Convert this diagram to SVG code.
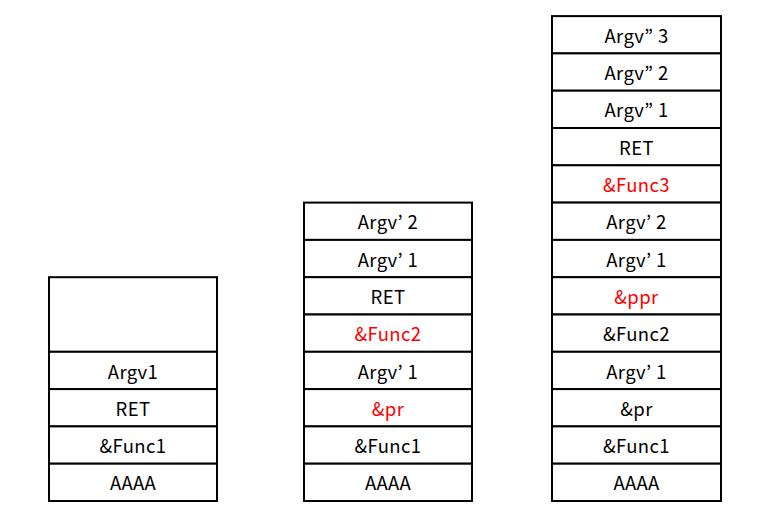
<svg xmlns="http://www.w3.org/2000/svg" width="773" height="517" viewBox="0 0 773 517">
<style>
rect{fill:#fff;stroke:#000;stroke-width:2}
text{font-family:"Malgun Gothic","Noto Sans CJK KR","Noto Sans",sans-serif;font-size:18.5px;letter-spacing:0.4px;text-anchor:middle;dominant-baseline:central;fill:#000}
.r{fill:#f00}
</style>
<rect width="773" height="517" style="stroke:none"/>
<g id="stack1">
<g id="s1-blank"><rect x="49" y="277.2" width="168" height="74.6"/></g>
<g id="s1-argv1"><rect x="49" y="351.8" width="168" height="37.3"/><text x="133" y="370.5">Argv1</text></g>
<g id="s1-ret"><rect x="49" y="389.1" width="168" height="37.3"/><text x="133" y="407.8">RET</text></g>
<g id="s1-func1"><rect x="49" y="426.4" width="168" height="37.3"/><text x="133" y="445">&amp;Func1</text></g>
<g id="s1-aaaa"><rect x="49" y="463.7" width="168" height="37.3"/><text x="133" y="482.4">AAAA</text></g>
</g>
<g id="stack2">
<g id="s2-argvp2"><rect x="304" y="202.6" width="168" height="37.3"/><text x="388" y="221.3">Argv’ 2</text></g>
<g id="s2-argvp1a"><rect x="304" y="239.9" width="168" height="37.3"/><text x="388" y="258.6">Argv’ 1</text></g>
<g id="s2-ret"><rect x="304" y="277.2" width="168" height="37.3"/><text x="388" y="295.9">RET</text></g>
<g id="s2-func2"><rect x="304" y="314.5" width="168" height="37.3"/><text class="r" x="388" y="333.2">&amp;Func2</text></g>
<g id="s2-argvp1b"><rect x="304" y="351.8" width="168" height="37.3"/><text x="388" y="370.5">Argv’ 1</text></g>
<g id="s2-pr"><rect x="304" y="389.1" width="168" height="37.3"/><text class="r" x="388" y="407.8">&amp;pr</text></g>
<g id="s2-func1"><rect x="304" y="426.4" width="168" height="37.3"/><text x="388" y="445">&amp;Func1</text></g>
<g id="s2-aaaa"><rect x="304" y="463.7" width="168" height="37.3"/><text x="388" y="482.4">AAAA</text></g>
</g>
<g id="stack3">
<g id="s3-argvpp3"><rect x="552" y="16.1" width="169" height="37.3"/><text x="636.5" y="34.8">Argv” 3</text></g>
<g id="s3-argvpp2"><rect x="552" y="53.4" width="169" height="37.3"/><text x="636.5" y="72.1">Argv” 2</text></g>
<g id="s3-argvpp1"><rect x="552" y="90.7" width="169" height="37.3"/><text x="636.5" y="109.4">Argv” 1</text></g>
<g id="s3-ret"><rect x="552" y="128" width="169" height="37.3"/><text x="636.5" y="146.7">RET</text></g>
<g id="s3-func3"><rect x="552" y="165.3" width="169" height="37.3"/><text class="r" x="636.5" y="184">&amp;Func3</text></g>
<g id="s3-argvp2"><rect x="552" y="202.6" width="169" height="37.3"/><text x="636.5" y="221.3">Argv’ 2</text></g>
<g id="s3-argvp1a"><rect x="552" y="239.9" width="169" height="37.3"/><text x="636.5" y="258.6">Argv’ 1</text></g>
<g id="s3-ppr"><rect x="552" y="277.2" width="169" height="37.3"/><text class="r" x="636.5" y="295.9">&amp;ppr</text></g>
<g id="s3-func2"><rect x="552" y="314.5" width="169" height="37.3"/><text x="636.5" y="333.2">&amp;Func2</text></g>
<g id="s3-argvp1b"><rect x="552" y="351.8" width="169" height="37.3"/><text x="636.5" y="370.5">Argv’ 1</text></g>
<g id="s3-pr"><rect x="552" y="389.1" width="169" height="37.3"/><text x="636.5" y="407.8">&amp;pr</text></g>
<g id="s3-func1"><rect x="552" y="426.4" width="169" height="37.3"/><text x="636.5" y="445">&amp;Func1</text></g>
<g id="s3-aaaa"><rect x="552" y="463.7" width="169" height="37.3"/><text x="636.5" y="482.4">AAAA</text></g>
</g>
<g id="connectors"/>
</svg>
